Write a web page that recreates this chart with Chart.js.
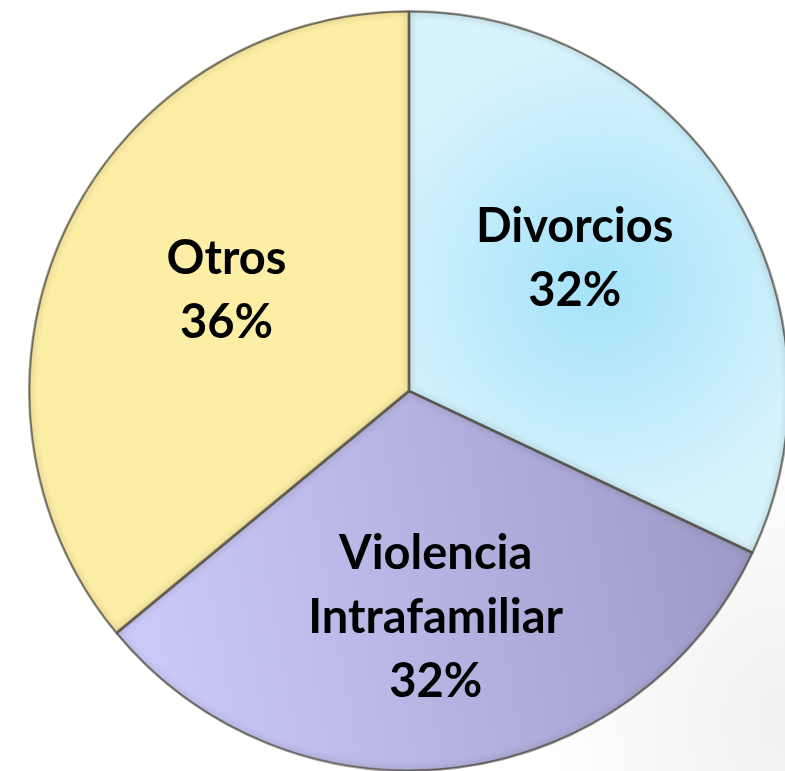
<!DOCTYPE html>
<html>
<head>
<meta charset="utf-8">
<script src="https://cdn.jsdelivr.net/npm/chart.js@4"></script>
<style>
  html, body { margin: 0; padding: 0; width: 785px; height: 771px; overflow: hidden; }
  body {
    background: radial-gradient(ellipse 240px 280px at 785px 720px, #f0f0f0 0%, #f8f8f8 55%, #ffffff 100%);
  }
  #pie { position: absolute; left: 28px; top: 10px; }
</style>
</head>
<body>
<canvas id="pie" width="762" height="762"></canvas>
<script>
const categories = [['Divorcios'], ['Violencia', 'Intrafamiliar'], ['Otros']];
const values = [32, 32, 36];
const percentLabels = ['32%', '32%', '36%'];

function sliceFill(context) {
  const chart = context.chart;
  const area = chart.chartArea;
  if (!area) return '#cccccc';
  const c = chart.ctx;
  const cx = (area.left + area.right) / 2;
  const cy = (area.top + area.bottom) / 2;
  const r = Math.min(area.width, area.height) / 2;
  if (context.dataIndex === 0) {
    const g = c.createRadialGradient(cx + r * 0.5, cy - r * 0.28, 0, cx + r * 0.5, cy - r * 0.28, r * 0.62);
    g.addColorStop(0, '#a4e2fa');
    g.addColorStop(1, '#d7f3fd');
    return g;
  }
  if (context.dataIndex === 1) {
    const g = c.createLinearGradient(cx - r * 0.75, cy + r * 0.6, cx + r * 0.9, cy + r * 0.3);
    g.addColorStop(0, '#cbcbf9');
    g.addColorStop(1, '#9c99c7');
    return g;
  }
  return '#fdeea5';
}

// soft inner shadow on each slice, to hint at the bevel of the original
const bevel = {
  id: 'bevel',
  afterDatasetsDraw(chart) {
    const ctx = chart.ctx;
    chart.getDatasetMeta(0).data.forEach(function(arc) {
      const p = arc.getProps(['x', 'y', 'startAngle', 'endAngle', 'outerRadius'], true);
      ctx.save();
      ctx.beginPath();
      ctx.moveTo(p.x, p.y);
      ctx.arc(p.x, p.y, p.outerRadius, p.startAngle, p.endAngle);
      ctx.closePath();
      ctx.clip();
      ctx.shadowColor = 'rgba(60, 55, 40, 0.55)';
      ctx.shadowBlur = 7;
      ctx.lineWidth = 3;
      ctx.strokeStyle = 'rgba(70, 65, 55, 0.55)';
      ctx.stroke();
      ctx.restore();
    });
  }
};

const labelNudge = [[-14, -18], [0, 16], [10, -10]];

const sliceLabels = {
  id: 'sliceLabels',
  afterDatasetsDraw(chart) {
    const ctx = chart.ctx;
    const arcs = chart.getDatasetMeta(0).data;
    ctx.save();
    ctx.font = 'bold 47px Lato';
    ctx.fillStyle = '#000000';
    ctx.textAlign = 'center';
    ctx.textBaseline = 'middle';
    arcs.forEach(function(arc, i) {
      const p = arc.getProps(['x', 'y', 'startAngle', 'endAngle', 'outerRadius'], true);
      const mid = (p.startAngle + p.endAngle) / 2;
      const d = p.outerRadius * 0.56;
      const x = p.x + Math.cos(mid) * d + labelNudge[i][0];
      const y = p.y + Math.sin(mid) * d + labelNudge[i][1];
      const lines = categories[i].concat([percentLabels[i]]);
      const lh = 64;
      lines.forEach(function(t, j) {
        ctx.fillText(t, x, y + (j - (lines.length - 1) / 2) * lh);
      });
    });
    ctx.restore();
  }
};

new Chart(document.getElementById('pie').getContext('2d'), {
  type: 'pie',
  data: {
    labels: categories.map(function(l) { return l.join(' '); }),
    datasets: [{
      data: values,
      backgroundColor: sliceFill,
      borderColor: 'rgba(95, 90, 80, 0.6)',
      borderWidth: 2
    }]
  },
  options: {
    responsive: false,
    animation: false,
    events: [],
    plugins: {
      legend: { display: false },
      tooltip: { enabled: false }
    }
  },
  plugins: [bevel, sliceLabels]
});
</script>
</body>
</html>
